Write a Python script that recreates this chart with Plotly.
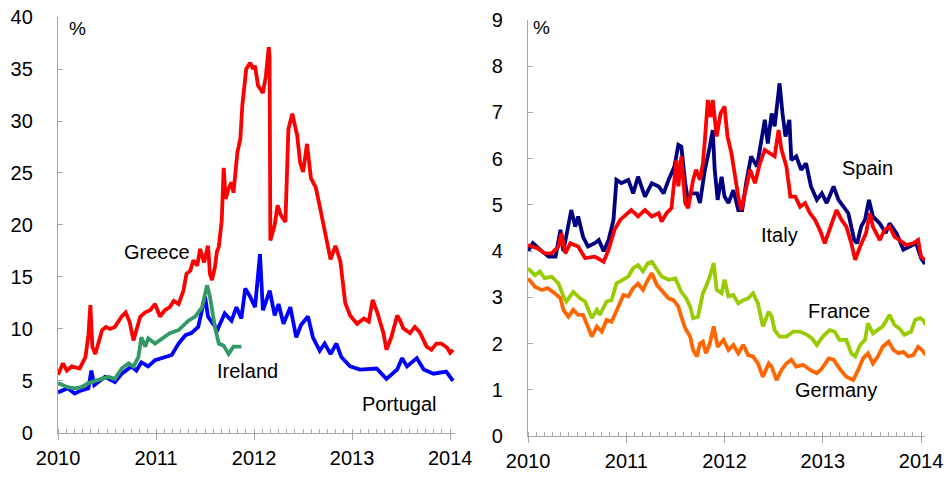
import plotly.graph_objects as go

# ---------------- data (decimal years, %) ----------------
greece_x = [2010.00, 2010.05, 2010.09, 2010.14, 2010.22, 2010.28, 2010.31, 2010.33, 2010.35, 2010.38,
            2010.45, 2010.49, 2010.53, 2010.58, 2010.65, 2010.69, 2010.73, 2010.77, 2010.80, 2010.84,
            2010.89, 2010.94, 2010.99, 2011.04, 2011.09, 2011.14, 2011.18, 2011.23, 2011.28, 2011.31,
            2011.35, 2011.38, 2011.42, 2011.45, 2011.49, 2011.53, 2011.55, 2011.57, 2011.60, 2011.62,
            2011.64, 2011.67, 2011.69, 2011.71, 2011.74, 2011.77, 2011.79, 2011.83, 2011.86, 2011.88,
            2011.92, 2011.96, 2011.99, 2012.01, 2012.04, 2012.09, 2012.12, 2012.150, 2012.158, 2012.166,
            2012.21, 2012.24, 2012.27, 2012.32, 2012.35, 2012.39, 2012.44, 2012.47, 2012.50, 2012.54,
            2012.58, 2012.63, 2012.67, 2012.72, 2012.78, 2012.83, 2012.88, 2012.93, 2012.98, 2013.05,
            2013.12, 2013.17, 2013.21, 2013.26, 2013.32, 2013.35, 2013.40, 2013.46, 2013.49, 2013.52,
            2013.59, 2013.64, 2013.69, 2013.76, 2013.81, 2013.86, 2013.91, 2013.97, 2014.00, 2014.03]
greece_y = [5.6, 6.7, 6.0, 6.4, 6.2, 7.3, 9.4, 12.3, 8.3, 7.6,
            9.9, 10.2, 10.0, 10.2, 11.2, 11.6, 10.7, 8.9, 9.9, 11.2,
            11.6, 11.8, 12.4, 11.2, 11.8, 12.1, 12.7, 12.4, 13.7, 15.3,
            15.6, 16.6, 16.1, 17.7, 16.4, 18.0, 15.3, 14.7, 15.9, 17.4,
            17.9, 20.4, 25.5, 22.5, 23.5, 24.1, 23.1, 27.0, 28.3, 31.5,
            35.0, 35.6, 35.0, 35.3, 33.4, 32.7, 34.3, 37.1, 36.3, 18.5,
            20.0, 21.9, 21.0, 20.3, 29.2, 30.7, 28.6, 26.0, 25.1, 27.8,
            24.5, 23.6, 21.8, 19.3, 16.7, 18.0, 16.5, 12.5, 11.3, 10.5,
            11.0, 10.7, 12.8, 11.5, 9.6, 8.0, 9.2, 11.3, 10.8, 10.1,
            9.6, 10.2, 9.7, 8.3, 8.0, 8.6, 8.6, 8.2, 7.7, 8.0]

ireland_x = [2010.00, 2010.10, 2010.17, 2010.24, 2010.31, 2010.41, 2010.51, 2010.58, 2010.65, 2010.72,
             2010.77, 2010.82, 2010.85, 2010.89, 2010.92, 2010.99, 2011.06, 2011.14, 2011.23, 2011.28,
             2011.33, 2011.40, 2011.47, 2011.52, 2011.55, 2011.60, 2011.64, 2011.69, 2011.74, 2011.79,
             2011.87]
ireland_y = [4.8, 4.4, 4.3, 4.4, 4.8, 5.1, 5.4, 5.2, 6.2, 6.7,
             6.4, 7.3, 9.2, 8.3, 9.1, 8.6, 9.1, 9.6, 9.9, 10.4,
             10.8, 11.2, 12.1, 14.2, 13.1, 10.2, 8.6, 8.4, 7.6, 8.3,
             8.3]

portugal_x = [2010.00, 2010.10, 2010.17, 2010.24, 2010.31, 2010.34, 2010.37, 2010.48, 2010.58, 2010.65,
              2010.75, 2010.80, 2010.85, 2010.92, 2010.99, 2011.09, 2011.16, 2011.23, 2011.30, 2011.36,
              2011.43, 2011.50, 2011.53, 2011.58, 2011.63, 2011.70, 2011.77, 2011.82, 2011.87, 2011.91,
              2011.96, 2012.01, 2012.03, 2012.06, 2012.09, 2012.16, 2012.21, 2012.25, 2012.30, 2012.37,
              2012.43, 2012.48, 2012.55, 2012.60, 2012.67, 2012.72, 2012.78, 2012.84, 2012.89, 2012.98,
              2013.08, 2013.18, 2013.25, 2013.35, 2013.46, 2013.51, 2013.56, 2013.66, 2013.73, 2013.83,
              2013.96, 2014.03]
portugal_y = [3.9, 4.3, 3.8, 4.1, 4.3, 6.0, 4.6, 5.4, 4.9, 5.7,
              6.4, 6.0, 6.8, 6.4, 7.0, 7.3, 7.5, 8.6, 9.4, 9.6,
              10.2, 13.1, 11.2, 10.5, 10.0, 11.5, 10.8, 12.1, 11.0, 13.9,
              13.1, 12.1, 14.2, 17.2, 11.8, 13.7, 11.3, 12.4, 10.5, 12.1,
              9.2, 10.4, 11.2, 9.2, 7.9, 8.6, 7.6, 8.6, 7.3, 6.4,
              6.1, 6.2, 6.2, 5.2, 6.1, 7.2, 6.4, 7.2, 6.1, 5.7,
              5.9, 5.0]

spain_x = [2010.00, 2010.05, 2010.14, 2010.21, 2010.28, 2010.33, 2010.36, 2010.41, 2010.44, 2010.48,
           2010.51, 2010.56, 2010.61, 2010.68, 2010.72, 2010.77, 2010.82, 2010.87, 2010.90, 2010.95,
           2011.02, 2011.07, 2011.12, 2011.19, 2011.26, 2011.33, 2011.38, 2011.43, 2011.46, 2011.49,
           2011.53, 2011.56, 2011.60, 2011.63, 2011.66, 2011.72, 2011.75, 2011.80, 2011.85, 2011.88,
           2011.90, 2011.93, 2011.97, 2012.00, 2012.04, 2012.09, 2012.14, 2012.18, 2012.22, 2012.27,
           2012.33, 2012.38, 2012.41, 2012.44, 2012.48, 2012.51, 2012.56, 2012.59, 2012.62, 2012.66,
           2012.68, 2012.73, 2012.78, 2012.83, 2012.88, 2012.94, 2012.99, 2013.04, 2013.11, 2013.16,
           2013.21, 2013.26, 2013.32, 2013.35, 2013.39, 2013.43, 2013.47, 2013.51, 2013.58, 2013.64,
           2013.68, 2013.75, 2013.82, 2013.88, 2013.95, 2014.00, 2014.04]
spain_y = [4.00, 4.17, 4.00, 3.88, 3.88, 4.46, 4.00, 4.53, 4.89, 4.53,
           4.75, 4.31, 4.10, 4.17, 4.24, 4.00, 4.24, 4.68, 5.54, 5.47,
           5.54, 5.25, 5.61, 5.18, 5.47, 5.40, 5.25, 5.54, 5.69, 5.83,
           6.30, 6.26, 5.47, 5.07, 5.25, 5.25, 5.04, 5.76, 6.26, 6.62,
           5.76, 5.11, 5.61, 5.18, 5.04, 5.32, 4.89, 4.89, 5.47, 6.05,
           5.83, 6.48, 6.84, 6.33, 6.98, 6.70, 7.63, 6.98, 6.48, 6.84,
           5.97, 6.05, 5.76, 5.90, 5.40, 5.11, 5.25, 5.04, 5.40, 5.11,
           4.96, 4.82, 4.24, 4.17, 4.53, 4.68, 5.11, 4.75, 4.60, 4.39,
           4.60, 4.39, 4.03, 4.10, 4.17, 3.85, 3.72]

italy_x = [2010.00, 2010.10, 2010.17, 2010.24, 2010.31, 2010.34, 2010.38, 2010.43, 2010.51, 2010.58,
           2010.68, 2010.77, 2010.82, 2010.88, 2010.94, 2010.99, 2011.05, 2011.12, 2011.19, 2011.26,
           2011.33, 2011.36, 2011.41, 2011.46, 2011.51, 2011.53, 2011.56, 2011.60, 2011.63, 2011.68,
           2011.71, 2011.75, 2011.78, 2011.80, 2011.83, 2011.86, 2011.88, 2011.92, 2011.96, 2012.00,
           2012.03, 2012.07, 2012.10, 2012.14, 2012.17, 2012.20, 2012.26, 2012.31, 2012.36, 2012.41,
           2012.46, 2012.51, 2012.55, 2012.58, 2012.63, 2012.67, 2012.72, 2012.77, 2012.82, 2012.87,
           2012.92, 2012.97, 2013.02, 2013.07, 2013.14, 2013.19, 2013.24, 2013.29, 2013.33, 2013.38,
           2013.44, 2013.48, 2013.51, 2013.58, 2013.63, 2013.68, 2013.73, 2013.78, 2013.85, 2013.92,
           2013.97, 2014.00, 2014.04]
italy_y = [4.13, 4.06, 3.95, 3.95, 4.10, 4.39, 3.95, 4.17, 4.10, 3.85,
           3.88, 3.77, 4.03, 4.46, 4.68, 4.78, 4.89, 4.75, 4.89, 4.75,
           4.82, 4.64, 4.82, 4.93, 5.97, 5.40, 6.05, 5.04, 4.93, 5.54,
           5.76, 5.54, 5.90, 6.41, 7.27, 6.90, 7.27, 6.48, 6.98, 7.13,
           6.48, 6.12, 5.69, 5.18, 4.89, 5.18, 5.76, 5.47, 5.90, 6.19,
           6.12, 6.05, 6.62, 6.19, 5.83, 5.18, 5.18, 4.96, 5.04, 4.82,
           4.68, 4.46, 4.17, 4.46, 4.89, 4.68, 4.53, 4.17, 3.81, 4.10,
           4.39, 4.82, 4.53, 4.24, 4.46, 4.53, 4.31, 4.24, 4.13, 4.17,
           4.24, 3.88, 3.81]

france_x = [2010.00, 2010.07, 2010.12, 2010.17, 2010.24, 2010.31, 2010.36, 2010.39, 2010.46, 2010.53,
            2010.58, 2010.65, 2010.70, 2010.73, 2010.80, 2010.85, 2010.90, 2010.97, 2011.02, 2011.07,
            2011.12, 2011.17, 2011.22, 2011.26, 2011.31, 2011.36, 2011.43, 2011.50, 2011.56, 2011.61,
            2011.65, 2011.68, 2011.73, 2011.78, 2011.81, 2011.85, 2011.89, 2011.92, 2011.97, 2012.00,
            2012.04, 2012.09, 2012.14, 2012.19, 2012.24, 2012.29, 2012.34, 2012.39, 2012.45, 2012.48,
            2012.51, 2012.56, 2012.63, 2012.70, 2012.77, 2012.84, 2012.89, 2012.94, 2013.00, 2013.07,
            2013.12, 2013.17, 2013.24, 2013.29, 2013.33, 2013.38, 2013.43, 2013.46, 2013.51, 2013.56,
            2013.61, 2013.68, 2013.73, 2013.78, 2013.83, 2013.90, 2013.94, 2013.99, 2014.02, 2014.05]
france_y = [3.63, 3.48, 3.56, 3.41, 3.45, 3.30, 3.02, 2.91, 3.12, 2.98,
            2.91, 2.55, 2.73, 2.62, 2.91, 2.94, 3.30, 3.38, 3.45, 3.63,
            3.70, 3.56, 3.74, 3.77, 3.59, 3.45, 3.38, 3.41, 3.12, 2.98,
            2.80, 2.55, 2.58, 3.09, 3.23, 3.45, 3.74, 3.16, 3.09, 3.38,
            3.02, 3.05, 2.87, 2.94, 2.98, 3.09, 2.87, 2.37, 2.69, 2.58,
            2.29, 2.15, 2.15, 2.26, 2.26, 2.19, 2.11, 1.97, 2.15, 2.29,
            2.26, 2.08, 2.08, 1.79, 1.72, 1.97, 2.08, 2.44, 2.22, 2.29,
            2.37, 2.62, 2.40, 2.33, 2.19, 2.26, 2.51, 2.55, 2.51, 2.40]

germany_x = [2010.00, 2010.07, 2010.14, 2010.20, 2010.27, 2010.33, 2010.36, 2010.41, 2010.46, 2010.51,
             2010.56, 2010.61, 2010.65, 2010.70, 2010.75, 2010.80, 2010.85, 2010.92, 2010.97, 2011.02,
             2011.07, 2011.12, 2011.17, 2011.22, 2011.26, 2011.31, 2011.36, 2011.43, 2011.48, 2011.53,
             2011.56, 2011.60, 2011.65, 2011.68, 2011.72, 2011.75, 2011.78, 2011.81, 2011.85, 2011.89,
             2011.93, 2011.99, 2012.04, 2012.09, 2012.14, 2012.19, 2012.24, 2012.29, 2012.34, 2012.39,
             2012.45, 2012.48, 2012.53, 2012.58, 2012.63, 2012.68, 2012.73, 2012.80, 2012.87, 2012.94,
             2012.99, 2013.06, 2013.11, 2013.17, 2013.24, 2013.31, 2013.36, 2013.41, 2013.46, 2013.51,
             2013.56, 2013.61, 2013.67, 2013.72, 2013.77, 2013.82, 2013.87, 2013.92, 2013.97, 2014.01,
             2014.05]
germany_y = [3.41, 3.23, 3.16, 3.20, 3.09, 2.98, 2.73, 2.58, 2.73, 2.62,
             2.62, 2.37, 2.15, 2.37, 2.26, 2.51, 2.47, 2.80, 3.05, 3.02,
             3.20, 3.30, 3.16, 3.38, 3.52, 3.27, 3.16, 2.98, 2.94, 2.80,
             2.58, 2.33, 2.15, 1.86, 1.72, 2.00, 2.04, 1.79, 2.00, 2.37,
             1.93, 2.08, 1.86, 1.97, 1.79, 1.97, 1.75, 1.72, 1.57, 1.28,
             1.57, 1.50, 1.21, 1.43, 1.57, 1.65, 1.50, 1.54, 1.43, 1.36,
             1.46, 1.68, 1.65, 1.46, 1.28, 1.21, 1.43, 1.68, 1.79, 1.57,
             1.72, 1.93, 2.04, 1.86, 1.79, 1.82, 1.72, 1.75, 1.93, 1.86,
             1.75]

year_ticks = [2010, 2011, 2012, 2013, 2014]
year_labels = ["2010", "2011", "2012", "2013", "2014"]

# ---------------- figure ----------------
FONT = "Liberation Sans, Arial, sans-serif"
AXIS_GREY = "#a6a6a6"
LW = 3.8

fig = go.Figure()

def add_line(x, y, color, xa, ya, name):
    fig.add_trace(go.Scatter(x=x, y=y, mode="lines", name=name,
                             line=dict(color=color, width=LW),
                             xaxis=xa, yaxis=ya, showlegend=False,
                             hoverinfo="x+y+name"))

add_line(portugal_x, portugal_y, "#0000ff", "x", "y", "Portugal")
add_line(ireland_x, ireland_y, "#339966", "x", "y", "Ireland")
add_line(greece_x, greece_y, "#ff0000", "x", "y", "Greece")
add_line(spain_x, spain_y, "#000080", "x2", "y2", "Spain")
add_line(italy_x, italy_y, "#ff0000", "x2", "y2", "Italy")
add_line(france_x, france_y, "#99cc00", "x2", "y2", "France")
add_line(germany_x, germany_y, "#ff6600", "x2", "y2", "Germany")

xcommon = dict(tickmode="array", tickvals=year_ticks, ticktext=year_labels,
               ticks="outside", ticklen=6, tickcolor=AXIS_GREY, tickwidth=1,
               showline=True, linecolor=AXIS_GREY, linewidth=1.3,
               showgrid=False, zeroline=False, ticklabelstandoff=1, automargin=False,
               tickfont=dict(family=FONT, size=20, color="#000"),
               minor=dict(tickmode="linear", tick0=2010, dtick=1/12, ticks="inside",
                          ticklen=4, tickcolor=AXIS_GREY, tickwidth=1, showgrid=False))
ycommon = dict(ticks="inside", ticklen=5, tickcolor=AXIS_GREY, tickwidth=1,
               showline=True, linecolor=AXIS_GREY, linewidth=1.3,
               showgrid=False, zeroline=False, ticklabelstandoff=20, automargin=False,
               tickfont=dict(family=FONT, size=20, color="#000"))

fig.update_layout(
    width=948, height=477,
    margin=dict(l=0, r=0, t=17, b=41),
    paper_bgcolor="white", plot_bgcolor="white",
    font=dict(family=FONT, size=20, color="#000"),
    xaxis=dict(domain=[0.0612, 0.480], range=[2010, 2014.05], anchor="y", **xcommon),
    yaxis=dict(domain=[0.0072, 1.0], range=[0, 40], tick0=0, dtick=5, anchor="x", **ycommon),
    xaxis2=dict(domain=[0.557, 0.9757], range=[2010, 2014.04], anchor="y2", **xcommon),
    yaxis2=dict(domain=[0.0, 0.9928], range=[0, 9], tick0=0, dtick=1, anchor="x2", **ycommon),
)

def label(text, x, y, xr, yr, size=20):
    fig.add_annotation(text=text, x=x, y=y, xref=xr, yref=yr, showarrow=False,
                       font=dict(family=FONT, size=size, color="#000"))

label("%", 2010.2, 38.9, "x", "y", 19)
label("Greece", 2011.01, 17.4, "x", "y")
label("Ireland", 2011.93, 5.95, "x", "y")
label("Portugal", 2013.48, 2.8, "x", "y")
label("%", 2010.14, 8.83, "x2", "y2", 19)
label("Spain", 2013.46, 5.8, "x2", "y2")
label("Italy", 2012.56, 4.35, "x2", "y2")
label("France", 2013.17, 2.7, "x2", "y2")
label("Germany", 2013.13, 1.0, "x2", "y2")

fig.write_html(
    "out.html",
    config={"displayModeBar": False},
    post_script="document.body.style.margin='0px';document.body.style.padding='0px';"
                "document.body.style.overflow='hidden';",
)
